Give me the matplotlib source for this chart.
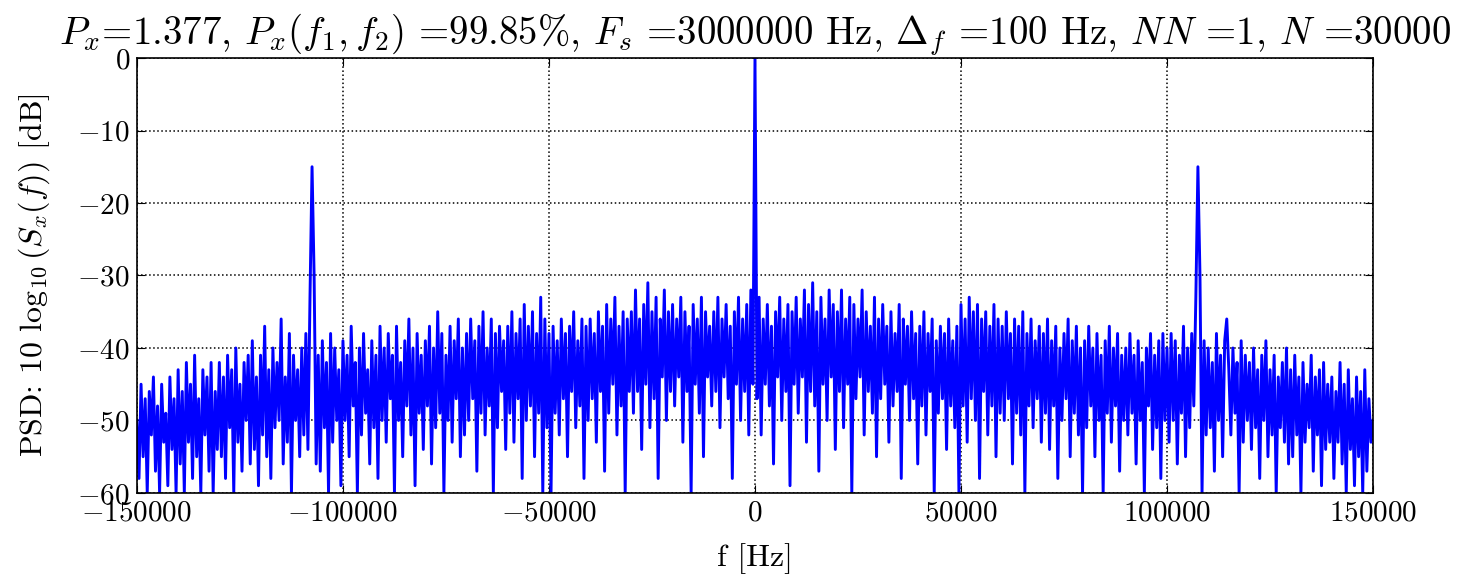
import numpy as np
import matplotlib
matplotlib.use('Agg')
import matplotlib.pyplot as plt

# ── Data: PSD, 500 Hz steps from -150 kHz to +150 kHz ──
f_start, f_stop, f_step = -150000, 150000, 500

psd_db = [
    -50, -58, -45, -55, -47, -60, -46, -52, -44, -57, -48, -60, -45, -53, -49, -59, -44, -54, -47, -60,
    -43, -56, -46, -60, -42, -53, -45, -58, -41, -55, -47, -60, -43, -52, -44, -57, -42, -60, -46, -54,
    -42, -55, -44, -58, -41, -51, -43, -60, -40, -53, -45, -57, -42, -50, -41, -56, -39, -54, -44, -59,
    -41, -52, -37, -55, -43, -58, -40, -51, -42, -50, -36, -56, -44, -53, -38, -60, -41, -50, -43, -55,
    -40, -52, -38, -54, -33, -15, -30, -56, -41, -57, -39, -51, -42, -60, -38, -53, -40, -50, -43, -59,
    -39, -50, -41, -55, -37, -48, -42, -60, -40, -52, -38, -49, -43, -56, -39, -51, -41, -58, -37, -50,
    -40, -53, -38, -47, -41, -60, -37, -50, -42, -55, -39, -48, -36, -52, -40, -59, -38, -49, -41, -54,
    -39, -48, -37, -56, -40, -51, -35, -49, -38, -60, -41, -50, -37, -53, -39, -47, -36, -55, -40, -52,
    -38, -50, -36, -47, -39, -57, -37, -49, -35, -52, -40, -48, -36, -60, -38, -51, -37, -46, -39, -54,
    -37, -49, -35, -53, -38, -47, -36, -58, -34, -50, -37, -48, -35, -55, -38, -49, -33, -60, -36, -51,
    -38, -60, -37, -49, -39, -52, -36, -47, -38, -55, -37, -46, -35, -51, -39, -48, -36, -58, -37, -50,
    -36, -47, -38, -53, -35, -46, -37, -57, -34, -49, -36, -45, -33, -52, -37, -48, -35, -60, -36, -46,
    -35, -49, -32, -46, -36, -54, -34, -45, -31, -51, -35, -47, -33, -58, -36, -44, -32, -50, -35, -46,
    -34, -48, -36, -44, -33, -53, -35, -46, -37, -60, -34, -45, -36, -49, -33, -55, -35, -44, -37, -48,
    -35, -46, -33, -51, -36, -44, -34, -47, -37, -58, -35, -45, -33, -50, -36, -46, -34, -52, -32, -45,
    0, -47, -33, -52, -36, -45, -34, -48, -37, -56, -35, -44, -33, -50, -36, -46, -34, -59, -35, -45,
    -33, -49, -36, -44, -32, -53, -34, -46, -31, -48, -35, -57, -33, -45, -36, -50, -32, -44, -34, -54,
    -35, -46, -32, -51, -36, -45, -33, -60, -34, -47, -36, -44, -32, -52, -35, -46, -37, -49, -33, -55,
    -36, -47, -34, -45, -37, -53, -35, -48, -38, -46, -34, -58, -36, -45, -37, -50, -35, -47, -38, -56,
    -37, -48, -35, -52, -38, -46, -36, -60, -39, -49, -37, -47, -38, -54, -36, -48, -39, -51, -37, -60,
    -34, -48, -36, -53, -33, -47, -35, -50, -34, -58, -36, -46, -35, -52, -37, -48, -34, -55, -36, -49,
    -37, -50, -35, -47, -38, -56, -36, -49, -37, -52, -35, -60, -38, -48, -36, -51, -39, -47, -37, -53,
    -38, -49, -36, -54, -39, -48, -37, -58, -40, -50, -38, -47, -36, -55, -39, -49, -37, -52, -40, -60,
    -39, -51, -37, -48, -40, -55, -38, -50, -41, -60, -39, -49, -37, -53, -40, -48, -38, -57, -41, -50,
    -40, -52, -38, -49, -41, -56, -39, -50, -42, -60, -40, -48, -38, -54, -41, -51, -39, -58, -38, -50,
    -40, -53, -38, -50, -39, -56, -41, -49, -37, -55, -40, -51, -38, -48, -33, -15, -30, -60, -39, -52,
    -40, -51, -42, -57, -38, -50, -41, -55, -39, -36, -43, -52, -40, -49, -42, -60, -39, -53, -41, -50,
    -42, -54, -40, -51, -43, -58, -41, -50, -39, -55, -43, -52, -41, -60, -44, -51, -42, -53, -40, -56,
    -43, -55, -41, -52, -44, -60, -42, -53, -45, -51, -41, -57, -44, -52, -43, -59, -42, -54, -45, -53,
    -44, -58, -46, -53, -42, -56, -45, -60, -43, -54, -47, -59, -44, -55, -46, -60, -43, -57, -47, -53,
    -50,
]
freq_hz = np.arange(f_start, f_stop + f_step, f_step)

x_ticks = [-150000, -100000, -50000, 0, 50000, 100000, 150000]
y_ticks = [-60, -50, -40, -30, -20, -10, 0]

title = (r'$P_x$=1.377, $P_x(f_1,f_2)$ =99.85%, $F_s$ =3000000 Hz, '
         r'$\Delta_f$ =100 Hz, $NN$ =1, $N$ =30000')

# ── Styling (old "classic" look, Computer Modern text) ──
plt.rcParams.update({
    'font.family': ['cmr10', 'DejaVu Serif'],
    'mathtext.fontset': 'cm',
    'axes.formatter.use_mathtext': True,
    'axes.unicode_minus': True,
    'axes.linewidth': 1.2,
    'xtick.direction': 'in',
    'ytick.direction': 'in',
    'xtick.top': True,
    'ytick.right': True,
    'xtick.major.size': 6,
    'ytick.major.size': 6,
})

fig = plt.figure(figsize=(14.63, 5.82), dpi=100)
ax = fig.add_axes([0.0936, 0.153, 0.8449, 0.7473])

ax.plot(freq_hz, psd_db, color='#0000ff', linewidth=2.1)

ax.set_xlim(-150000, 150000)
ax.set_ylim(-60, 0)
ax.set_xticks(x_ticks)
ax.set_yticks(y_ticks)
ax.tick_params(labelsize=21, pad=5)
ax.grid(True, color='black', linestyle=':', linewidth=1.1)

ax.set_title(title, fontsize=28, pad=5)
ax.set_xlabel('f [Hz]', fontsize=23, labelpad=12)
ax.set_ylabel(r'PSD: 10 $\log_{10}(S_x(f))$ [dB]', fontsize=23, labelpad=18)

fig.savefig('out.png', dpi=100, facecolor='white')
